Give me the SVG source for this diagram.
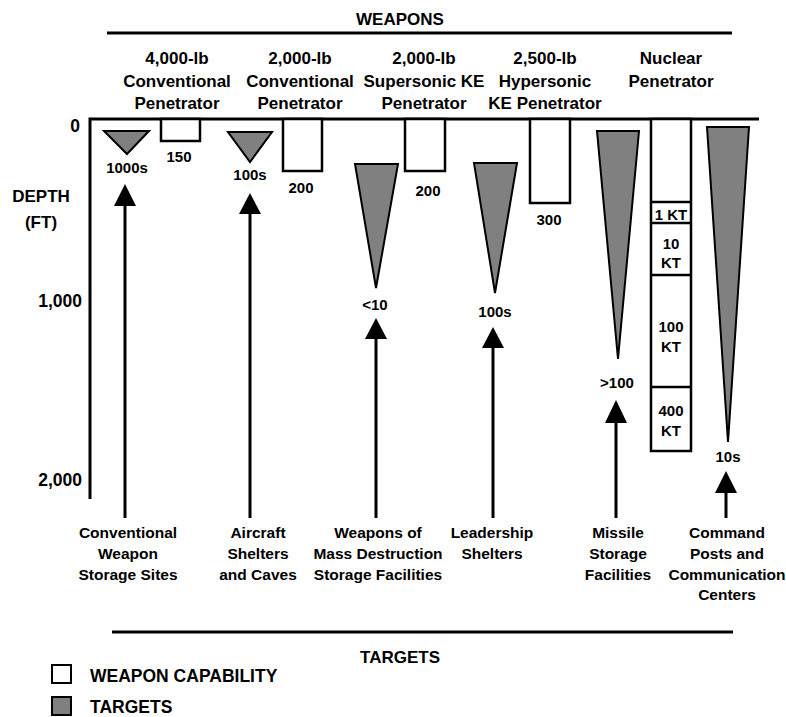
<svg xmlns="http://www.w3.org/2000/svg" width="786" height="717" viewBox="0 0 786 717">
  <style>
    text { font-family: "Liberation Sans", Arial, sans-serif; font-weight: bold; fill: #000; }
    .hd { font-size: 17px; text-anchor: middle; }
    .tg { font-size: 15.5px; text-anchor: middle; }
    .v { font-size: 15px; text-anchor: middle; }
    .ax { font-size: 17.5px; text-anchor: end; }
    .lg { font-size: 17.5px; }
    .cap { fill: #fff; stroke: #000; stroke-width: 2.5; }
    .tgt { fill: #808080; stroke: #000; stroke-width: 2; stroke-linejoin: miter; }
    .rule { stroke: #000; stroke-width: 3; fill: none; }
    .shaft { stroke: #000; stroke-width: 3; }
    .head { fill: #000; }
    .div { stroke: #000; stroke-width: 2.5; }
  </style>

  <!-- Titles and rules -->
  <g id="weapons-title">
    <text x="400" y="25" class="hd">WEAPONS</text>
    <line x1="107" y1="33" x2="732" y2="33" class="rule"/>
  </g>
  <g id="targets-title">
    <line x1="112" y1="632" x2="733" y2="632" class="rule"/>
    <text x="400" y="663" class="hd">TARGETS</text>
  </g>

  <!-- Depth axis -->
  <g id="axis">
    <path d="M90 499 V119 H759" class="rule"/>
    <text x="80" y="132" class="ax">0</text>
    <text x="41" y="202" class="hd">DEPTH</text>
    <text x="41" y="228" class="hd">(FT)</text>
    <text x="82" y="307" class="ax">1,000</text>
    <text x="82" y="486" class="ax">2,000</text>
  </g>

  <!-- Weapon column headers and capability bars -->
  <g id="weapon-1">
    <text x="177" y="64" class="hd">4,000-lb</text>
    <text x="177" y="87" class="hd">Conventional</text>
    <text x="177" y="109" class="hd">Penetrator</text>
    <rect x="161" y="119" width="39" height="22" class="cap"/>
    <text x="179" y="162" class="v">150</text>
  </g>
  <g id="weapon-2">
    <text x="300" y="64" class="hd">2,000-lb</text>
    <text x="300" y="87" class="hd">Conventional</text>
    <text x="300" y="109" class="hd">Penetrator</text>
    <rect x="283" y="119" width="39" height="52" class="cap"/>
    <text x="301" y="193" class="v">200</text>
  </g>
  <g id="weapon-3">
    <text x="424" y="64" class="hd">2,000-lb</text>
    <text x="424" y="87" class="hd">Supersonic KE</text>
    <text x="424" y="109" class="hd">Penetrator</text>
    <rect x="405" y="119" width="40" height="52" class="cap"/>
    <text x="428" y="196" class="v">200</text>
  </g>
  <g id="weapon-4">
    <text x="545" y="64" class="hd">2,500-lb</text>
    <text x="545" y="87" class="hd">Hypersonic</text>
    <text x="545" y="109" class="hd">KE Penetrator</text>
    <rect x="530" y="119" width="40" height="84" class="cap"/>
    <text x="549" y="225" class="v">300</text>
  </g>
  <g id="weapon-5">
    <text x="671" y="64" class="hd">Nuclear</text>
    <text x="671" y="87" class="hd">Penetrator</text>
    <rect x="651" y="119" width="40" height="332" class="cap"/>
    <line x1="651" y1="202" x2="691" y2="202" class="div"/>
    <line x1="651" y1="223" x2="691" y2="223" class="div"/>
    <line x1="651" y1="275" x2="691" y2="275" class="div"/>
    <line x1="651" y1="387" x2="691" y2="387" class="div"/>
    <text x="671" y="220" class="v">1 KT</text>
    <text x="671" y="249" class="v">10</text>
    <text x="671" y="268" class="v">KT</text>
    <text x="671" y="332" class="v">100</text>
    <text x="671" y="352" class="v">KT</text>
    <text x="671" y="416" class="v">400</text>
    <text x="671" y="436" class="v">KT</text>
  </g>

  <!-- Target depth wedges and target names -->
  <g id="target-1">
    <polygon points="104,131 149,131 127,154" class="tgt"/>
    <text x="127" y="173" class="v">1000s</text>
    <text x="128" y="538" class="tg">Conventional</text>
    <text x="128" y="559" class="tg">Weapon</text>
    <text x="128" y="580" class="tg">Storage Sites</text>
  </g>
  <g id="target-2">
    <polygon points="228,132 272,132 250,162" class="tgt"/>
    <text x="250" y="180" class="v">100s</text>
    <text x="258" y="538" class="tg">Aircraft</text>
    <text x="258" y="559" class="tg">Shelters</text>
    <text x="258" y="580" class="tg">and Caves</text>
  </g>
  <g id="target-3">
    <polygon points="355,164 398,164 376,288" class="tgt"/>
    <text x="375" y="310" class="v">&lt;10</text>
    <text x="378" y="538" class="tg">Weapons of</text>
    <text x="378" y="559" class="tg">Mass Destruction</text>
    <text x="378" y="580" class="tg">Storage Facilities</text>
  </g>
  <g id="target-4">
    <polygon points="474,163 517,163 495,293" class="tgt"/>
    <text x="495" y="317" class="v">100s</text>
    <text x="492" y="538" class="tg">Leadership</text>
    <text x="492" y="559" class="tg">Shelters</text>
  </g>
  <g id="target-5">
    <polygon points="597,131 639,131 618,359" class="tgt"/>
    <text x="617" y="388" class="v">&gt;100</text>
    <text x="618" y="538" class="tg">Missile</text>
    <text x="618" y="559" class="tg">Storage</text>
    <text x="618" y="580" class="tg">Facilities</text>
  </g>
  <g id="target-6">
    <polygon points="707,127 749,127 728,442" class="tgt"/>
    <text x="728" y="462" class="v">10s</text>
    <text x="727" y="538" class="tg">Command</text>
    <text x="727" y="559" class="tg">Posts and</text>
    <text x="727" y="580" class="tg">Communication</text>
    <text x="727" y="600" class="tg">Centers</text>
  </g>

  <!-- Connectors: arrows rising from each target to its depth -->
  <g id="connectors">
    <line x1="125" y1="518" x2="125" y2="200" class="shaft"/>
    <polygon points="125,184 136,206 114,206" class="head"/>
    <line x1="250" y1="518" x2="250" y2="210" class="shaft"/>
    <polygon points="250,193 261,214 239,214" class="head"/>
    <line x1="376" y1="518" x2="376" y2="335" class="shaft"/>
    <polygon points="376,318 387,339 365,339" class="head"/>
    <line x1="493" y1="518" x2="493" y2="344" class="shaft"/>
    <polygon points="493,327 504,348 482,348" class="head"/>
    <line x1="616" y1="518" x2="616" y2="418" class="shaft"/>
    <polygon points="616,400 627,423 605,423" class="head"/>
    <line x1="726" y1="518" x2="726" y2="488" class="shaft"/>
    <polygon points="726,471 737,493 715,493" class="head"/>
  </g>

  <!-- Legend -->
  <g id="legend">
    <rect x="52" y="665" width="19" height="18" fill="#fff" stroke="#000" stroke-width="2"/>
    <text x="90" y="682" class="lg">WEAPON CAPABILITY</text>
    <rect x="52" y="697" width="19" height="18" fill="#808080" stroke="#000" stroke-width="2"/>
    <text x="90" y="713" class="lg">TARGETS</text>
  </g>
</svg>
